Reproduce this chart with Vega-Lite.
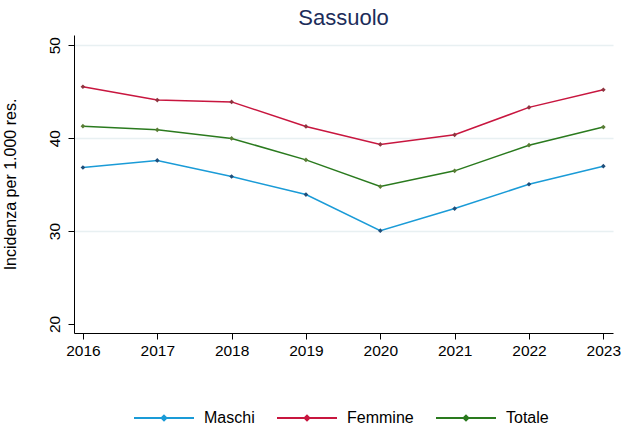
{
  "$schema": "https://vega.github.io/schema/vega-lite/v6.json",
  "width": 539,
  "height": 298,
  "autosize": {"type": "none"},
  "padding": {"left": 74, "top": 35, "right": 20, "bottom": 97},
  "background": "white",
  "title": {
    "text": "Sassuolo",
    "anchor": "middle",
    "fontSize": 22,
    "font": "Liberation Sans",
    "fontWeight": "normal",
    "color": "#1c2d5a",
    "offset": 5
  },
  "config": {
    "view": {"stroke": null},
    "font": "Liberation Sans"
  },
  "data": {
    "values": [
      {"anno": 2016, "serie": "Maschi", "valore": 36.84},
      {"anno": 2017, "serie": "Maschi", "valore": 37.6},
      {"anno": 2018, "serie": "Maschi", "valore": 35.87},
      {"anno": 2019, "serie": "Maschi", "valore": 33.93},
      {"anno": 2020, "serie": "Maschi", "valore": 30.04},
      {"anno": 2021, "serie": "Maschi", "valore": 32.42},
      {"anno": 2022, "serie": "Maschi", "valore": 35.04},
      {"anno": 2023, "serie": "Maschi", "valore": 36.98},
      {"anno": 2016, "serie": "Femmine", "valore": 45.53},
      {"anno": 2017, "serie": "Femmine", "valore": 44.1},
      {"anno": 2018, "serie": "Femmine", "valore": 43.9},
      {"anno": 2019, "serie": "Femmine", "valore": 41.26},
      {"anno": 2020, "serie": "Femmine", "valore": 39.32},
      {"anno": 2021, "serie": "Femmine", "valore": 40.36},
      {"anno": 2022, "serie": "Femmine", "valore": 43.31},
      {"anno": 2023, "serie": "Femmine", "valore": 45.21},
      {"anno": 2016, "serie": "Totale", "valore": 41.29},
      {"anno": 2017, "serie": "Totale", "valore": 40.9},
      {"anno": 2018, "serie": "Totale", "valore": 39.97},
      {"anno": 2019, "serie": "Totale", "valore": 37.66},
      {"anno": 2020, "serie": "Totale", "valore": 34.79},
      {"anno": 2021, "serie": "Totale", "valore": 36.48},
      {"anno": 2022, "serie": "Totale", "valore": 39.24},
      {"anno": 2023, "serie": "Totale", "valore": 41.19}
    ]
  },
  "encoding": {
    "x": {
      "field": "anno",
      "type": "quantitative",
      "scale": {"domain": [2015.88, 2023.13], "nice": false, "zero": false},
      "axis": {
        "title": null,
        "values": [2016, 2017, 2018, 2019, 2020, 2021, 2022, 2023],
        "format": "d",
        "grid": false,
        "domainColor": "#000000",
        "tickColor": "#000000",
        "tickSize": 6,
        "labelFontSize": 15.5,
        "labelColor": "#000000",
        "labelPadding": 4,
        "labelFont": "Liberation Sans"
      }
    },
    "y": {
      "field": "valore",
      "type": "quantitative",
      "scale": {"domain": [19.03, 51.1], "nice": false, "zero": false},
      "axis": {
        "title": "Incidenza per 1.000 res.",
        "titleFontSize": 16,
        "titleFontWeight": "normal",
        "titleColor": "#000000",
        "titleFont": "Liberation Sans",
        "titlePadding": 29,
        "values": [20, 30, 40, 50],
        "grid": true,
        "gridColor": {"condition": {"test": "datum.value == 20", "value": "transparent"}, "value": "#e8f0f2"},
        "gridWidth": 1.5,
        "domainColor": "#000000",
        "tickColor": "#000000",
        "tickSize": 6,
        "labelFontSize": 15.5,
        "labelColor": "#000000",
        "labelAngle": 270,
        "labelAlign": "center",
        "labelBaseline": "bottom",
        "labelPadding": 6,
        "labelFont": "Liberation Sans"
      }
    }
  },
  "layer": [
    {
      "mark": {"type": "line", "strokeWidth": 1.5},
      "encoding": {
        "color": {
          "field": "serie",
          "type": "nominal",
          "scale": {"domain": ["Maschi", "Femmine", "Totale"], "range": ["#1a9bd7", "#c8163f", "#2a7a1e"]},
          "legend": {
            "title": null,
            "orient": "none",
            "direction": "horizontal",
            "legendX": 59,
            "legendY": 352,
            "padding": 0,
            "symbolType": "M-1,0L1,0M0,-0.08L0.08,0L0,0.08L-0.08,0Z",
            "symbolSize": 3600,
            "symbolStrokeWidth": 2,
            "labelFontSize": 16,
            "labelColor": "#000000",
            "labelFont": "Liberation Sans",
            "labelOffset": 9,
            "columnPadding": 18
          }
        }
      }
    },
    {
      "mark": {"type": "point", "shape": "diamond", "filled": true, "size": 22, "opacity": 1},
      "encoding": {
        "color": {
          "field": "serie",
          "type": "nominal",
          "scale": {"domain": ["Maschi", "Femmine", "Totale"], "range": ["#1f4e7a", "#8f3540", "#5a7d35"]},
          "legend": null
        }
      }
    }
  ],
  "resolve": {"scale": {"color": "independent"}}
}
